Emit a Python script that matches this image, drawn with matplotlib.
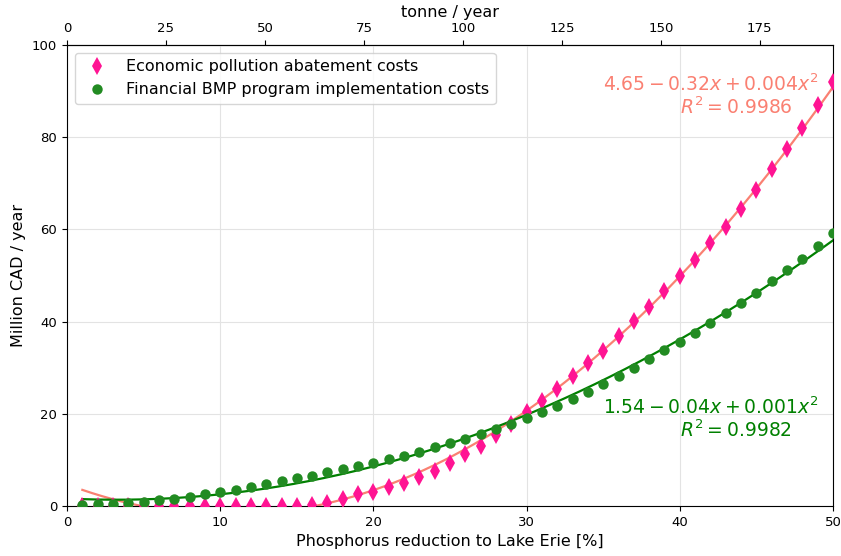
import numpy as np
import matplotlib
matplotlib.use('Agg')
import matplotlib.pyplot as plt

# phosphorus reduction (%) and costs (million CAD / year)
reduction = np.arange(1, 51)
economic = [0.05, 0.05, 0.05, 0.05, 0.05, 0.05, 0.05, 0.05, 0.05, 0.05,
            0.05, 0.05, 0.05, 0.05, 0.1, 0.2, 0.7, 1.5, 2.5, 3.1,
            4.2, 5.1, 6.4, 7.6, 9.4, 11.2, 13.1, 15.3, 17.7, 20.5,
            22.8, 25.4, 28.2, 31.1, 33.7, 36.9, 40.1, 43.2, 46.6, 49.8,
            53.4, 57.1, 60.6, 64.5, 68.6, 73.0, 77.4, 81.9, 86.9, 92.0]
financial = [0.2, 0.4, 0.5, 0.7, 0.9, 1.3, 1.6, 2.0, 2.5, 3.0,
             3.5, 4.2, 4.7, 5.4, 6.0, 6.6, 7.3, 7.95, 8.7, 9.3,
             10.1, 10.9, 11.7, 12.7, 13.6, 14.5, 15.6, 16.6, 17.7, 19.1,
             20.5, 21.7, 23.2, 24.8, 26.4, 28.1, 30.0, 31.8, 33.8, 35.6,
             37.6, 39.6, 41.8, 44.0, 46.3, 48.7, 51.2, 53.6, 56.4, 59.3]
top_ticks = [0, 25, 50, 75, 100, 125, 150, 175]
tonne_per_pct = 3.87  # tonne / year per % reduction

econ_eq = r'$4.65 - 0.32x + 0.004x^2$'
econ_r2 = r'$R^2 = 0.9986$'
fin_eq = r'$1.54 - 0.04x + 0.001x^2$'
fin_r2 = r'$R^2 = 0.9982$'

fig = plt.figure(figsize=(8.41, 5.56), dpi=100)
ax = fig.add_axes([0.0797, 0.0899, 0.9108, 0.8292])

# quadratic fits done in tonne units
t = reduction * tonne_per_pct
p_econ = np.polyfit(t, economic, 2)
p_fin = np.polyfit(t, financial, 2)
xs = np.linspace(1, 50, 300)

ax.plot(xs, np.polyval(p_econ, xs * tonne_per_pct), color='salmon', lw=1.6, zorder=2)
ax.plot(xs, np.polyval(p_fin, xs * tonne_per_pct), color='green', lw=1.6, zorder=2)
ax.plot(reduction, economic, 'd', color='deeppink', ms=9, mew=0,
        label='Economic pollution abatement costs', zorder=3)
ax.plot(reduction, financial, 'o', color='forestgreen', ms=7.5, mew=0,
        label='Financial BMP program implementation costs', zorder=3)

ax.text(35, 90, econ_eq, color='salmon', fontsize=13.5)
ax.text(40, 85, econ_r2, color='salmon', fontsize=13.5)
ax.text(35, 20, fin_eq, color='green', fontsize=13.5)
ax.text(40, 15, fin_r2, color='green', fontsize=13.5)

ax.set_xlim(0, 50)
ax.set_ylim(0, 100)
ax.set_xlabel('Phosphorus reduction to Lake Erie [%]', fontsize=11.5)
ax.set_ylabel('Million CAD / year', fontsize=11.5)
ax.tick_params(labelsize=9.5)
ax.grid(True, color='#e3e3e3', lw=0.8)
ax.set_axisbelow(True)

top = ax.secondary_xaxis('top', functions=(lambda v: v * tonne_per_pct,
                                           lambda v: v / tonne_per_pct))
top.set_xticks(top_ticks)
top.set_xlabel('tonne / year', fontsize=11.5)
top.tick_params(labelsize=9.5)

ax.legend(loc='upper left', fontsize=11.5, handletextpad=0.8, borderpad=0.4)

fig.savefig('out.png', dpi=100)
